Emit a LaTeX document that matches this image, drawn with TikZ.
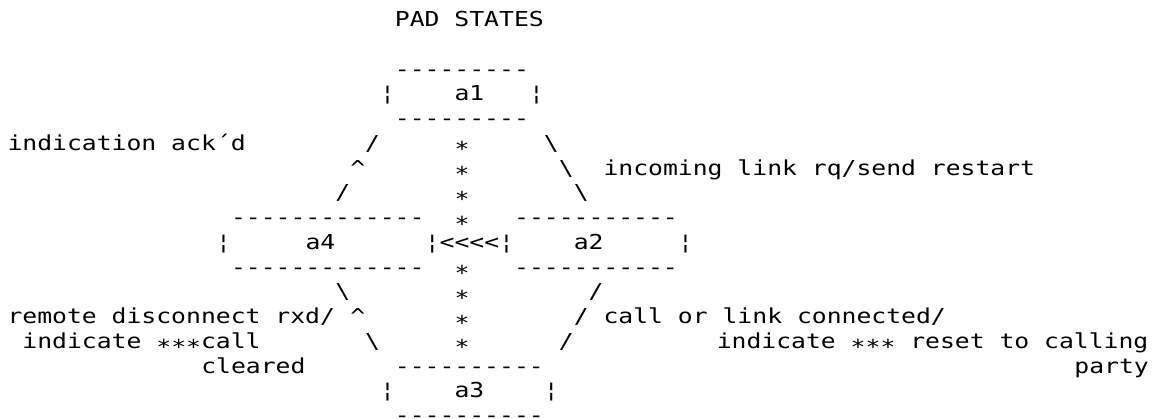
\documentclass[tikz,border=0pt]{standalone}
\usepackage{fontspec}
\setmonofont{DejaVu Sans Mono}[FakeStretch=1.2]
\newcommand{\lowstar}{\raisebox{-6.5bp}{*}}

\begin{document}
\begin{tikzpicture}
		[x=14.9bp, y=24.75bp,
		ascii/.style={inner sep=0pt, outer sep=0pt, anchor=base west, font=\ttfamily\fontsize{20.6bp}{24.75bp}\selectfont},
		star/.style={ascii, yshift=-6.5bp}]
		\useasboundingbox (-7.55bp,26.5bp) rectangle ++(1158bp,-419bp);

		\node [ascii] (title) at (26,0) {PAD STATES};

		\node [ascii] (a1t) at (26,-2) {---------};
		\node [ascii] (a1w) at (25,-3) {¦};
		\node [ascii] (a1) at (30,-3) {a1};
		\node [ascii] (a1e) at (35,-3) {¦};
		\node [ascii] (a1b) at (26,-4) {---------};

		\node [ascii] (ack) at (0,-5) {indication ack´d};
		\node [ascii] (ul5) at (24,-5) {/};
		\node [star] (s5) at (30,-5) {*};
		\node [ascii] (ur5) at (36,-5) {\textbackslash};
		\node [ascii] (ul6) at (23,-6) {\textasciicircum};
		\node [star] (s6) at (30,-6) {*};
		\node [ascii] (ur6) at (37,-6) {\textbackslash};
		\node [ascii] (inc) at (40,-6) {incoming link rq/send restart};
		\node [ascii] (ul7) at (22,-7) {/};
		\node [star] (s7) at (30,-7) {*};
		\node [ascii] (ur7) at (38,-7) {\textbackslash};

		\node [ascii] (a4t) at (15,-8) {-------------};
		\node [star] (s8) at (30,-8) {*};
		\node [ascii] (a2t) at (34,-8) {-----------};
		\node [ascii] (a4w) at (14,-9) {¦};
		\node [ascii] (a4) at (20,-9) {a4};
		\node [ascii] (back) at (28,-9) {¦<<<<¦};
		\node [ascii] (a2) at (38,-9) {a2};
		\node [ascii] (a2e) at (45,-9) {¦};
		\node [ascii] (a4b) at (15,-10) {-------------};
		\node [star] (s10) at (30,-10) {*};
		\node [ascii] (a2b) at (34,-10) {-----------};

		\node [ascii] (ll11) at (22,-11) {\textbackslash};
		\node [star] (s11) at (30,-11) {*};
		\node [ascii] (lr11) at (39,-11) {/};
		\node [ascii] (rem) at (0,-12) {remote disconnect rxd/};
		\node [ascii] (ll12) at (23,-12) {\textasciicircum};
		\node [star] (s12) at (30,-12) {*};
		\node [ascii] (lr12) at (38,-12) {/};
		\node [ascii] (con) at (40,-12) {call or link connected/};
		\node [ascii] (clr1) at (1,-13) {indicate \lowstar\lowstar\lowstar call};
		\node [ascii] (ll13) at (24,-13) {\textbackslash};
		\node [star] (s13) at (30,-13) {*};
		\node [ascii] (lr13) at (37,-13) {/};
		\node [ascii] (rst1) at (47.6,-13) {indicate \lowstar\lowstar\lowstar{} reset to calling};
		\node [ascii] (clr2) at (13,-14) {cleared};
		\node [ascii] (rst2) at (71.6,-14) {party};

		\node [ascii] (a3t) at (26,-14) {----------};
		\node [ascii] (a3w) at (25,-15) {¦};
		\node [ascii] (a3) at (30,-15) {a3};
		\node [ascii] (a3e) at (36,-15) {¦};
		\node [ascii] (a3b) at (26,-16) {----------};
	\end{tikzpicture}
\end{document}
